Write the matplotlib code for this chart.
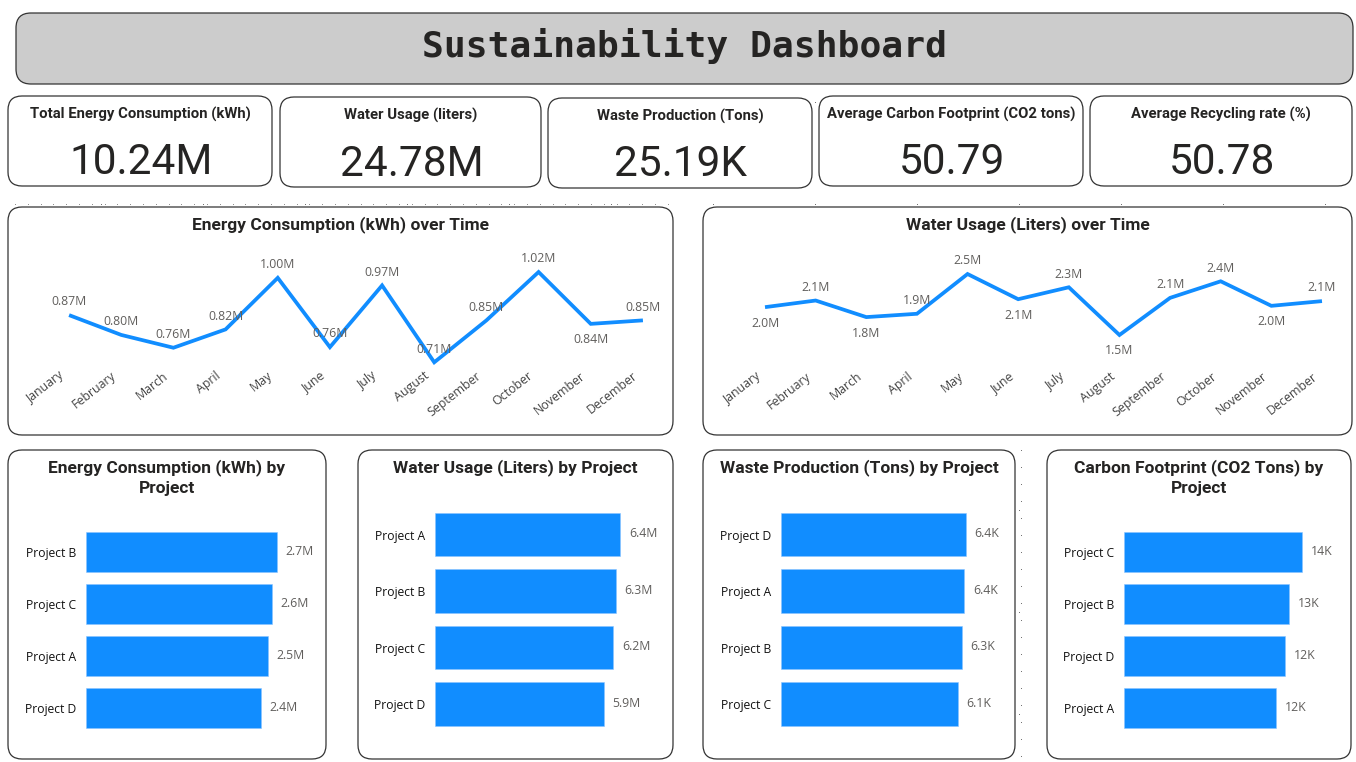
import numpy as np
import matplotlib
matplotlib.use("Agg")
import matplotlib.pyplot as plt
from matplotlib.patches import FancyBboxPatch
from matplotlib.transforms import ScaledTranslation

W, H = 1356, 762

# ---------- data ----------
months = ["January", "February", "March", "April", "May", "June", "July",
          "August", "September", "October", "November", "December"]
energy_by_month = [0.872, 0.804, 0.76, 0.823, 1.0, 0.762, 0.974, 0.71, 0.854, 1.02, 0.842, 0.854]
water_by_month = [1.96, 2.06, 1.81, 1.86, 2.46, 2.08, 2.26, 1.54, 2.10, 2.35, 1.98, 2.051]

energy_projects = ["Project B", "Project C", "Project A", "Project D"]
energy_values = [2.66, 2.59, 2.54, 2.44]
water_projects = ["Project A", "Project B", "Project C", "Project D"]
water_values = [6.44, 6.28, 6.19, 5.87]
waste_projects = ["Project D", "Project A", "Project B", "Project C"]
waste_values = [6.42, 6.36, 6.28, 6.14]
carbon_projects = ["Project C", "Project B", "Project D", "Project A"]
carbon_values = [13.77, 12.77, 12.46, 11.76]

kpi_titles = ["Total Energy Consumption (kWh)", "Water Usage (liters)", "Waste Production (Tons)",
              "Average Carbon Footprint (CO2 tons)", "Average Recycling rate (%)"]
kpi_values = ["10.24M", "24.78M", "25.19K", "50.79", "50.78"]

# ---------- style ----------
BLUE = "#118DFF"
NARROW = "Roboto"
LABEL_FONT = ["Open Sans", "DejaVu Sans"]
TXT = "#252423"
GREY = "#605E5C"
water_label_side = [-1, 1, -1, 1, 1, -1, 1, -1, 1, 1, -1, 1]
energy_label_side = [1, 1, 1, 1, 1, 1, 1, 1, 1, 1, -1, 1]

fig = plt.figure(figsize=(W / 100, H / 100), dpi=100, facecolor="white")
bg = fig.add_axes([0, 0, 1, 1], zorder=0)
bg.set_xlim(0, W)
bg.set_ylim(H, 0)
bg.axis("off")

# faint layout-grid dots behind the panels
gx, gy = np.meshgrid(np.arange(101, W, 102), np.arange(102, H, 102))
bg.plot(gx.ravel(), gy.ravel(), ls="", marker="s", ms=0.6, mew=0, color="#666666", zorder=1)
rx = np.arange(15, 680, 12.8)
bg.plot(rx, np.full_like(rx, 204), ls="", marker="s", ms=0.6, mew=0, color="#888888", zorder=1)
ry = np.arange(450, 760, 17)
bg.plot(np.full_like(ry, 1021), ry, ls="", marker="s", ms=0.6, mew=0, color="#666666", zorder=1)


def panel(x0, y0, x1, y1, fc="white", r=14):
    bg.add_patch(FancyBboxPatch((x0 + r, y0 + r), x1 - x0 - 2 * r, y1 - y0 - 2 * r,
                                boxstyle=f"round,pad={r},rounding_size={r}",
                                fc=fc, ec="#333333", lw=0.9, zorder=2))


def axes_px(x0, y0, x1, y1):
    ax = fig.add_axes([x0 / W, 1 - y1 / H, (x1 - x0) / W, (y1 - y0) / H], zorder=3)
    ax.patch.set_alpha(0)
    for s in ax.spines.values():
        s.set_visible(False)
    return ax


# header
panel(16, 13, 1353, 84, fc="#CCCCCC", r=15)
bg.text(684.5, 46, "Sustainability Dashboard", ha="center", va="center", color=TXT,
        fontsize=26.1, family="DejaVu Sans Mono", fontweight="bold", zorder=4)

# KPI cards
kpi_boxes = [(8, 96, 272, 186), (280, 97, 541, 187), (548, 98, 812, 188),
             (819, 96, 1083, 186), (1090, 96, 1352, 186)]
for (x0, y0, x1, y1), t, v in zip(kpi_boxes, kpi_titles, kpi_values):
    panel(x0, y0, x1, y1)
    cx = (x0 + x1) / 2
    bg.text(cx, y0 + 18, t, ha="center", va="center", color=TXT, fontsize=10.7,
            family=NARROW, fontweight="bold", zorder=4)
    bg.text(cx + 1, y0 + 67, v, ha="center", va="center", color=TXT, fontsize=30.5,
            family=NARROW, zorder=4)


def line_chart(box, panel_box, title, values, ylim, fmt, sides, tick_pad, tick_dx):
    panel(*panel_box)
    bg.text((panel_box[0] + panel_box[2]) / 2, 225, title, ha="center", va="center", color=TXT,
            fontsize=12.5, family=NARROW, fontweight="bold", zorder=4)
    ax = axes_px(*box)
    x = np.arange(len(months))
    ax.plot(x, values, color=BLUE, lw=2.7, solid_joinstyle="miter", solid_capstyle="butt")
    ax.set_xlim(-0.5, len(months) - 0.5)
    ax.set_ylim(*ylim)
    ax.set_yticks([])
    ax.set_xticks(x, months, rotation=38, ha="right", rotation_mode="anchor",
                  fontsize=8.9, family=LABEL_FONT, color="#444444")
    ax.tick_params(axis="x", length=0, pad=tick_pad)
    shift = ScaledTranslation(tick_dx / 100, 0, fig.dpi_scale_trans)
    for lab in ax.get_xticklabels():
        lab.set_transform(lab.get_transform() + shift)
    for xi, v, s in zip(x, values, sides):
        ax.annotate(fmt(v), (xi, v), xytext=(0, 10.5 * s - 1), textcoords="offset points",
                    ha="center", va="center", fontsize=8.8, family=LABEL_FONT, color=GREY)
    return ax


line_chart((43, 262, 669, 372), (8, 207, 673, 435), "Energy Consumption (kWh) over Time",
           energy_by_month, (0.6767, 1.0544), lambda v: f"{v:.2f}M", energy_label_side, -2, -11)
line_chart((739.7, 264, 1347.3, 345), (703, 207, 1352, 435), "Water Usage (Liters) over Time",
           water_by_month, (1.389, 2.611), lambda v: f"{v:.1f}M", water_label_side, 18, -10)


def bar_chart(box, panel_box, title_lines, cats, values, xmax, fmt):
    panel(*panel_box)
    cx = (panel_box[0] + panel_box[2]) / 2
    for i, line in enumerate(title_lines):
        bg.text(cx, 468 + 21 * i, line, ha="center", va="center", color=TXT, fontsize=12.5,
                family=NARROW, fontweight="bold", zorder=4)
    ax = axes_px(*box)
    y = np.arange(len(cats))
    ax.barh(y, values, height=0.77, color=BLUE, edgecolor="#8CC4FF", linewidth=0.4)
    ax.set_xlim(0, xmax)
    ax.set_ylim(len(cats) - 0.5, -0.5)
    ax.set_xticks([])
    ax.set_yticks(y, cats, fontsize=8.7, family=LABEL_FONT, color="#111111")
    ax.tick_params(axis="y", length=0, pad=7)
    for yi, v in zip(y, values):
        ax.annotate(fmt(v), (v, yi), xytext=(6.3, 0.5), textcoords="offset points",
                    ha="left", va="center", fontsize=8.8, family=LABEL_FONT, color=GREY)


mfmt = lambda v: f"{v:.1f}M"
bar_chart((85.7, 525.7, 320, 733.7), (8, 450, 326, 759),
          ["Energy Consumption (kWh) by", "Project"], energy_projects, energy_values, 3.265, mfmt)
bar_chart((435.3, 506.4, 660, 732.4), (358, 450, 673, 759),
          ["Water Usage (Liters) by Project"], water_projects, water_values, 7.824, mfmt)
bar_chart((781, 506.4, 1005, 732.4), (703, 450, 1015, 759),
          ["Waste Production (Tons) by Project"], waste_projects, waste_values, 7.783,
          lambda v: f"{v:.1f}K")
bar_chart((1124, 525.7, 1340, 733.7), (1047, 450, 1351, 759),
          ["Carbon Footprint (CO2 Tons) by", "Project"], carbon_projects, carbon_values, 16.74,
          lambda v: f"{v:.0f}K")

fig.savefig("out.png", dpi=100, facecolor="white")
